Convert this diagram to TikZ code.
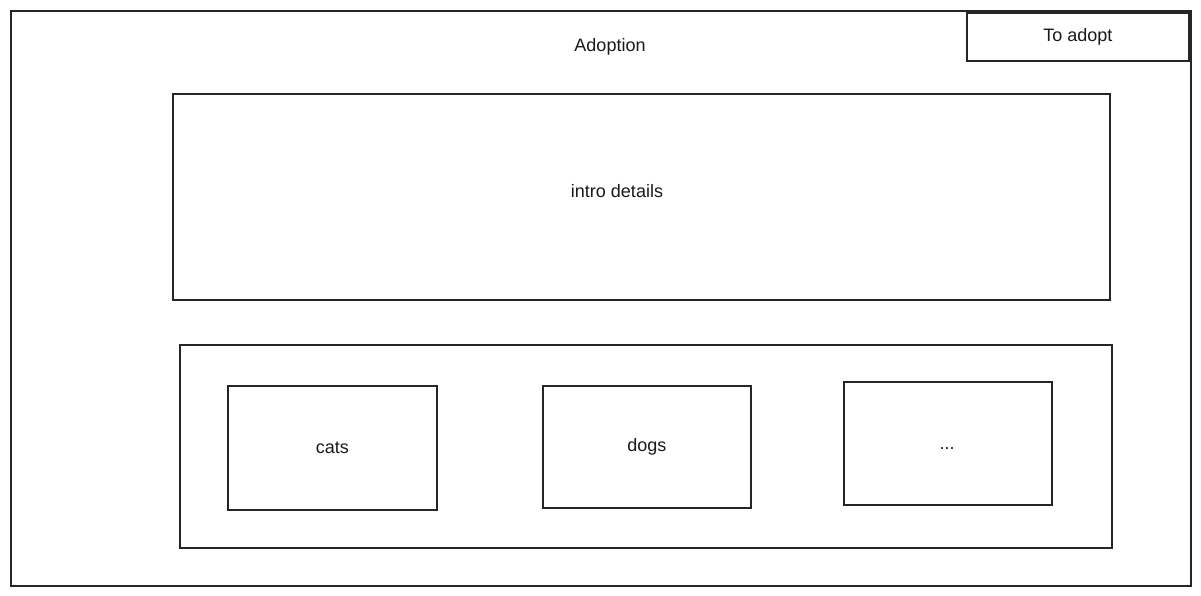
\documentclass[tikz,border=0pt]{standalone}
\usepackage{fontspec}
\setmainfont{Liberation Sans}
\usepackage{tikz}
\usetikzlibrary{positioning}

\begin{document}
\begin{tikzpicture}[x=1pt,y=-1pt,line width=1.6pt,
  every node/.style={font=\fontsize{18}{21}\selectfont,text=black!90},
  frame/.style={draw=black!85,rectangle,inner sep=0pt,anchor=north west}]
\useasboundingbox (0,0) rectangle (1201,596);

% page
\node[frame,minimum width=1180pt,minimum height=575pt] (page) at (10,10) {};
\node (title) at (610,47) {Adoption};
\node[frame,minimum width=222pt,minimum height=48pt] (adopt) at (966,12) {To adopt};

% intro
\node[frame,minimum width=937pt,minimum height=206pt] (intro) at (172,93) {};
\node (introtext) at (617,191) {intro details};

% categories
\node[frame,minimum width=932pt,minimum height=203pt] (cats) at (179,344) {};
\node[frame,minimum width=209pt,minimum height=124pt] (cat) at (227,385) {cats};
\node[frame,minimum width=208pt,minimum height=122pt] (dog) at (542,385) {dogs};
\node[frame,minimum width=208pt,minimum height=123pt] (more) at (843,381) {};
\node (moretext) at (947,449) {...};

\end{tikzpicture}
\end{document}
